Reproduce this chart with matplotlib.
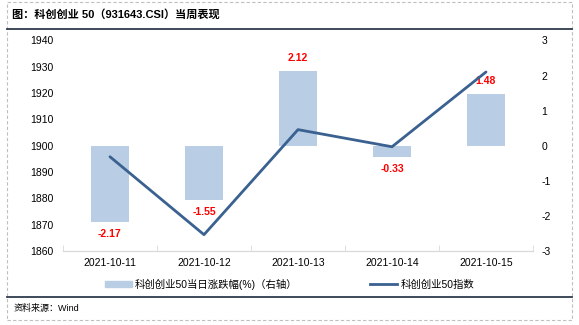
import matplotlib
matplotlib.use("Agg")
import matplotlib.pyplot as plt
from matplotlib.patches import Rectangle
from matplotlib.lines import Line2D
import numpy as np

plt.rcParams['font.family'] = ['Liberation Sans', 'Noto Sans CJK SC', 'DejaVu Sans']
plt.rcParams['axes.unicode_minus'] = False

dates = ["2021-10-11", "2021-10-12", "2021-10-13", "2021-10-14", "2021-10-15"]
pct_change = [-2.17, -1.55, 2.12, -0.33, 1.48]
index_close = [1895.8, 1866.2, 1906.1, 1899.6, 1928.0]
left_ticks = [1860, 1870, 1880, 1890, 1900, 1910, 1920, 1930, 1940]
right_ticks = [-3, -2, -1, 0, 1, 2, 3]

title = "图：科创创业 50（931643.CSI）当周表现"
source = "资料来源：Wind"
bar_label = "科创创业50当日涨跌幅(%)（右轴）"
line_label = "科创创业50指数"

bar_color = "#B9CDE5"
line_color = "#3A6190"
fs = 7.5

fig = plt.figure(figsize=(5.79, 3.25), dpi=100)
W, H = 579, 325

# decorative frame
fig.add_artist(Rectangle((7 / W, 1 - 320 / H), (572 - 7) / W, (320 - 2) / H,
                         transform=fig.transFigure, fill=False, edgecolor="#BFBFBF",
                         linestyle=(0, (3, 2)), linewidth=0.8))
fig.add_artist(Line2D([7 / W, 572 / W], [1 - 28.5 / H, 1 - 28.5 / H],
                      transform=fig.transFigure, color="#2F3B4C", linewidth=1.3))
fig.add_artist(Line2D([7 / W, 572 / W], [1 - 297 / H, 1 - 297 / H],
                      transform=fig.transFigure, color="#2F3B4C", linewidth=1.3))
fig.text(12 / W, 1 - 14.5 / H, title, fontsize=8, fontweight="bold", va="center", ha="left")
fig.text(14 / W, 1 - 308 / H, source, fontsize=6.5, va="center", ha="left")

ax = fig.add_axes([63 / W, 1 - 251 / H, (533 - 63) / W, (251 - 40.4) / H])
ax2 = ax.twinx()

x = np.arange(len(dates))
ax2.bar(x, pct_change, width=0.40, color=bar_color, zorder=2)
ax2.set_ylim(-3, 3)
ax2.set_yticks(right_ticks)

ax.plot(x, index_close, color=line_color, linewidth=2.0, solid_capstyle="round", zorder=3)
ax.set_ylim(1860, 1940)
ax.set_yticks(left_ticks)
ax.set_xlim(-0.5, len(dates) - 0.5)
ax.set_zorder(ax2.get_zorder() + 1)
ax.patch.set_visible(False)

for a in (ax, ax2):
    for s in ("top", "left", "right"):
        a.spines[s].set_visible(False)
    a.spines["bottom"].set_color("#D9D9D9")
    a.tick_params(axis="y", length=0, labelsize=fs, colors="black")

ax.tick_params(axis="y", pad=7)
ax2.tick_params(axis="y", pad=6)

ax.set_xticks(x)
ax.set_xticklabels(dates, fontsize=fs)
ax.tick_params(axis="x", length=0, pad=5)
ax.set_xticks(np.arange(-0.5, len(dates)), minor=True)
ax.tick_params(axis="x", which="minor", direction="in", length=4, color="#D9D9D9")
ax2.tick_params(axis="x", length=0)

for xi, v in zip(x, pct_change):
    off = 9.5 if v >= 0 else -8.7
    ax2.annotate(f"{v:.2f}", xy=(xi, v), xytext=(0, off), textcoords="offset points",
                 ha="center", va="center", color="red", fontweight="bold", fontsize=fs,
                 zorder=5, annotation_clip=False)

handles = [Rectangle((0, 0), 1, 1, color=bar_color),
           Line2D([0], [0], color=line_color, linewidth=2.0)]
fig.legend(handles, [bar_label, line_label], loc="center", bbox_to_anchor=(0.5, 1 - 284 / H),
           ncol=2, frameon=False, fontsize=fs, handlelength=2.6, handleheight=0.6,
           handletextpad=0.3, columnspacing=7.0)

fig.savefig("out.png", dpi=100)
